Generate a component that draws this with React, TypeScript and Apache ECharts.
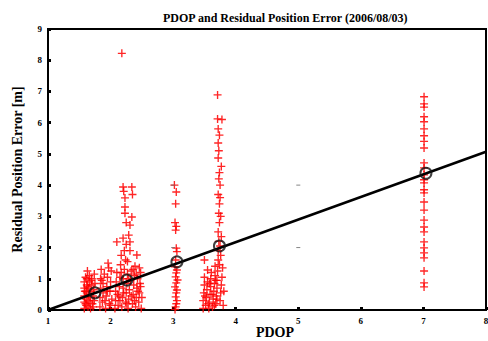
import React, { useEffect, useRef } from "react";
import * as echarts from "echarts";

const title = "PDOP and Residual Position Error (2006/08/03)";
const xName = "PDOP";
const yName = "Residual Position Error [m]";

// Scatter clusters (PDOP, residual error [m])
const clusterA: number[][] = [
  [1.58, 0.05], [1.58, 0.25], [1.58, 0.45], [1.58, 0.7], [1.58, 0.9], [1.6, 1.05],
  [1.61, 0.15], [1.61, 0.35], [1.61, 0.6], [1.62, 0.8], [1.62, 1.0], [1.63, 1.25],
  [1.64, 0.1], [1.64, 0.3], [1.65, 0.5], [1.65, 0.7], [1.66, 0.9], [1.66, 1.1],
  [1.68, 0.05], [1.68, 0.4], [1.69, 0.6], [1.7, 0.8], [1.7, 1.0], [1.71, 0.2],
  [1.72, 0.45], [1.73, 0.65], [1.74, 0.3], [1.75, 0.85], [1.74, 1.15], [1.62, 0.55],
  [1.6, 0.2], [1.63, 0.75], [1.67, 0.25], [1.69, 0.95], [1.72, 0.1], [1.59, 0.6],
];
const clusterB: number[][] = [
  [1.83, 0.1], [1.83, 0.4], [1.84, 0.7], [1.84, 1.0], [1.85, 1.3], [1.87, 0.25],
  [1.88, 0.55], [1.88, 0.85], [1.9, 1.15], [1.92, 0.05], [1.93, 0.45], [1.94, 0.75],
  [1.95, 1.05], [1.96, 1.5], [1.98, 0.2], [1.99, 0.6], [2.0, 0.9], [2.01, 1.25],
  [2.02, 0.35], [1.97, 1.35], [1.86, 0.95], [1.91, 0.3], [1.95, 0.6], [2.0, 0.15],
];
const clusterC: number[][] = [
  [2.07, 0.05], [2.08, 0.3], [2.08, 0.6], [2.09, 0.9], [2.1, 1.2], [2.1, 2.18],
  [2.12, 0.15], [2.13, 0.45], [2.14, 0.75], [2.15, 1.05], [2.16, 1.45], [2.17, 1.75],
  [2.18, 0.1], [2.19, 0.4], [2.2, 0.7], [2.2, 1.0], [2.2, 2.3], [2.2, 3.94],
  [2.21, 3.8], [2.22, 1.9], [2.22, 1.3], [2.23, 3.59], [2.23, 3.3], [2.23, 3.1],
  [2.24, 0.25], [2.25, 0.55], [2.25, 2.8], [2.26, 0.85], [2.27, 1.55], [2.27, 1.15],
  [2.28, 0.05], [2.29, 0.35], [2.3, 0.65], [2.31, 2.72], [2.31, 2.18], [2.31, 1.9],
  [2.32, 0.95], [2.33, 1.25], [2.34, 3.94], [2.34, 2.98], [2.35, 3.7], [2.35, 0.2],
  [2.36, 0.5], [2.37, 0.8], [2.38, 1.1], [2.39, 1.4], [2.4, 0.1], [2.41, 0.4],
  [2.42, 1.76], [2.42, 0.7], [2.43, 1.0], [2.45, 0.25], [2.46, 0.55], [2.47, 0.85],
  [2.48, 1.2], [2.49, 0.05], [2.5, 0.4], [2.18, 8.22],
  [2.11, 0.5], [2.15, 0.3], [2.17, 1.2], [2.21, 0.55], [2.24, 1.6], [2.26, 0.2],
  [2.29, 1.0], [2.33, 0.45], [2.36, 1.3], [2.38, 0.3], [2.41, 1.15], [2.44, 0.6],
  [2.46, 1.35], [2.48, 0.75], [2.29, 2.4], [2.25, 2.1],
];
const clusterD: number[][] = [
  [3.02, 4.0], [3.05, 3.78], [3.04, 3.4], [3.03, 2.8], [3.05, 2.68], [3.04, 2.56],
  [3.05, 1.98], [3.06, 1.87], [3.04, 1.6], [3.03, 1.38], [3.06, 1.28], [3.05, 1.19],
  [3.04, 1.06], [3.07, 0.96], [3.05, 0.87], [3.03, 0.74], [3.06, 0.64], [3.05, 0.55],
  [3.04, 0.42], [3.06, 0.3], [3.05, 0.2], [3.04, 0.1], [3.03, 0.02],
];
const clusterE: number[][] = [
  [3.48, 0.05], [3.48, 0.3], [3.49, 0.55], [3.5, 0.8], [3.5, 1.05], [3.5, 1.6],
  [3.52, 0.15], [3.53, 0.4], [3.54, 0.65], [3.55, 0.9], [3.55, 1.28], [3.57, 0.05],
  [3.58, 0.25], [3.59, 0.5], [3.6, 0.75], [3.6, 1.0], [3.61, 1.2], [3.63, 0.1],
  [3.64, 0.35], [3.65, 0.6], [3.66, 0.85], [3.67, 1.1], [3.67, 1.4], [3.68, 0.2],
  [3.69, 0.45], [3.7, 0.7], [3.7, 0.95], [3.71, 1.25], [3.72, 1.6], [3.72, 1.9],
  [3.73, 2.2], [3.72, 2.5], [3.74, 2.8], [3.73, 3.1], [3.74, 3.4], [3.72, 3.7],
  [3.75, 4.0], [3.73, 4.2], [3.74, 4.4], [3.72, 4.87], [3.73, 5.1], [3.72, 5.35],
  [3.74, 5.6], [3.72, 5.8], [3.71, 6.12], [3.78, 6.1], [3.71, 6.89], [3.75, 0.3],
  [3.76, 0.55], [3.77, 0.8], [3.78, 1.05], [3.79, 1.35], [3.8, 0.15], [3.81, 0.6],
  [3.76, 1.75], [3.77, 2.35],
  [3.51, 0.45], [3.56, 0.2], [3.58, 0.85], [3.62, 0.5], [3.66, 0.15], [3.68, 0.95],
  [3.7, 0.35], [3.74, 1.45], [3.75, 2.05], [3.76, 3.0], [3.75, 3.6], [3.77, 4.6],
];
const clusterF: number[][] = [
  [7.01, 6.83], [7.01, 6.6], [7.01, 6.5], [7.01, 6.19], [7.01, 6.03], [7.01, 5.8],
  [7.01, 5.58], [7.01, 5.4], [7.01, 5.19], [7.01, 4.71], [7.01, 4.55], [7.01, 4.33],
  [7.01, 4.17], [7.01, 4.07], [7.01, 3.85], [7.01, 3.75], [7.01, 3.46], [7.01, 3.2],
  [7.01, 2.88], [7.01, 2.66], [7.01, 2.5], [7.01, 2.18], [7.01, 1.99], [7.01, 1.83],
  [7.01, 1.67], [7.01, 1.25], [7.01, 0.87], [7.01, 0.74],
];
const grayPoints: number[][] = [
  [3.0, 4.0], [3.0, 2.0], [5.0, 4.0], [5.0, 2.0],
];
// Mean residual per PDOP group (open circles)
const meanX = [1.75, 2.26, 3.06, 3.74, 7.04];
const meanY = [0.55, 0.96, 1.54, 2.05, 4.38];
// Regression line
const fitX = [1, 8];
const fitY = [0, 5.07];

const plus =
  "path://M-1,-0.17 L1,-0.17 L1,0.17 L-1,0.17 Z M-0.17,-1 L0.17,-1 L0.17,1 L-0.17,1 Z";

const font = "'Liberation Serif', 'Times New Roman', serif";

export default function App() {
  const ref = useRef<HTMLDivElement>(null);
  useEffect(() => {
    if (!ref.current) return;
    const chart = echarts.init(ref.current, null, { renderer: "svg" });
    const scatterData = [
      ...clusterA, ...clusterB, ...clusterC, ...clusterD, ...clusterE, ...clusterF,
    ];
    chart.setOption({
      animation: false,
      backgroundColor: "#ffffff",
      title: {
        text: title,
        left: 158,
        top: 7,
        textStyle: { fontFamily: font, fontWeight: "bold", fontSize: 12, color: "#000" },
      },
      grid: {
        left: 48,
        right: 2,
        top: 29,
        bottom: 31,
        outerBoundsMode: "none",
        containLabel: false,
        show: true,
        borderColor: "#000",
        borderWidth: 2,
      },
      xAxis: {
        type: "value",
        min: 1,
        max: 8,
        interval: 1,
        name: xName,
        nameLocation: "middle",
        nameGap: 15,
        nameMoveOverlap: false,
        nameTextStyle: {
          fontFamily: font, fontWeight: "bold", fontSize: 14, lineHeight: 14, color: "#000",
          padding: [0, 0, 0, 16],
        },
        axisLine: { lineStyle: { color: "#000", width: 2 } },
        axisTick: { inside: true, length: 3, lineStyle: { color: "#000", width: 3 } },
        axisLabel: { fontFamily: font, fontWeight: "bold", fontSize: 9, color: "#000", margin: 6 },
        splitLine: { show: false },
      },
      yAxis: {
        type: "value",
        min: 0,
        max: 9,
        interval: 1,
        name: yName,
        nameLocation: "middle",
        nameGap: 24,
        nameTextStyle: { fontFamily: font, fontWeight: "bold", fontSize: 14, color: "#000" },
        axisLine: { lineStyle: { color: "#000", width: 2 } },
        axisTick: { inside: true, length: 3, lineStyle: { color: "#000", width: 3 } },
        axisLabel: { fontFamily: font, fontWeight: "bold", fontSize: 9, color: "#000", margin: 6 },
        splitLine: { show: false },
      },
      series: [
        {
          type: "scatter",
          data: scatterData,
          symbol: plus,
          symbolSize: 8,
          itemStyle: { color: "#ff0000", opacity: 0.85 },
          z: 2,
        },
        {
          type: "scatter",
          data: grayPoints,
          symbol: "rect",
          symbolSize: [4, 1],
          itemStyle: { color: "#666" },
          z: 2,
        },
        {
          type: "line",
          data: fitX.map((x, i) => [x, fitY[i]]),
          showSymbol: false,
          lineStyle: { color: "#000", width: 2.5 },
          z: 3,
        },
        {
          type: "scatter",
          data: meanX.map((x, i) => [x, meanY[i]]),
          symbol: "circle",
          symbolSize: 11,
          itemStyle: { color: "rgba(0,0,0,0)", borderColor: "#111", borderWidth: 2 },
          z: 4,
        },
      ],
    });
    return () => chart.dispose();
  }, []);
  return <div ref={ref} style={{ width: 488, height: 341, position: "absolute", left: 0, top: 0 }} />;
}
